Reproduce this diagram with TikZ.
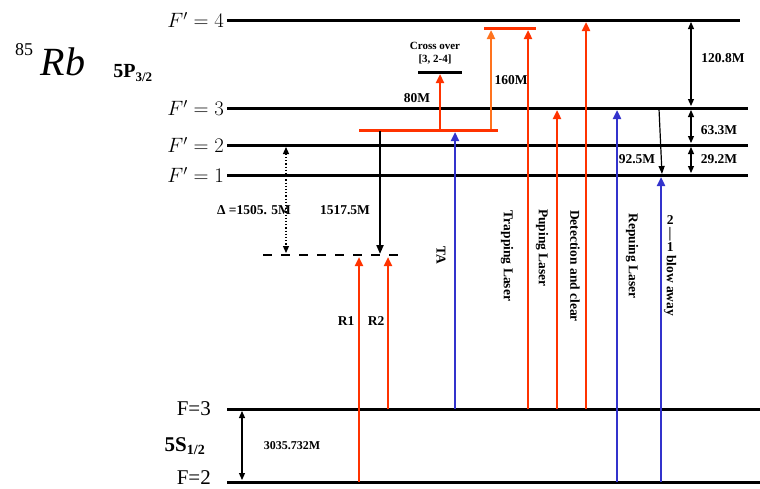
\documentclass[tikz,border=0pt]{standalone}
\usepackage{fontspec}
\setmainfont{Liberation Serif}
\usetikzlibrary{arrows.meta}
\definecolor{laserred}{RGB}{255,51,0}
\definecolor{laserorange}{RGB}{255,115,30}
\definecolor{laserblue}{RGB}{51,51,204}
\tikzstyle{level} = [line width=3pt, black]
\tikzstyle{laser} = [line width=2.5pt, -{Triangle[length=9pt,width=8pt]}]
\tikzstyle{gap} = [line width=1.2pt, {Triangle[length=7pt,width=6pt]}-{Triangle[length=7pt,width=6pt]}]
\tikzstyle{lbl} = [font=\fontsize{13.5}{15}\selectfont\bfseries, inner sep=0pt]
\tikzstyle{vlbl} = [lbl, rotate=-90]
\tikzstyle{lvlname} = [anchor=east, inner sep=0pt, font=\fontsize{21}{23}\selectfont]

\begin{document}
\begin{tikzpicture}[x=1pt, y=-1pt]
    \useasboundingbox (0,0) rectangle (760,488);

    % hyperfine levels
    \draw[level] (227,20) -- (740,20);
    \draw[level] (227,108) -- (748,108);
    \draw[level] (227,145) -- (748,145);
    \draw[level] (227,175) -- (748,175);
    \draw[level] (227,409) -- (760,409);
    \draw[level] (227,482) -- (760,482);

    \node(f4)[lvlname] at (224,20) {$F'=4$};
    \node(f3)[lvlname] at (224,108) {$F'=3$};
    \node(f2)[lvlname] at (224,145) {$F'=2$};
    \node(f1)[lvlname] at (224,175) {$F'=1$};
    \node(g3)[lvlname] at (211,409) {F=3};
    \node(g2)[lvlname, anchor=base east] at (211,484) {F=2};

    \node(mass)[inner sep=0pt, font=\fontsize{18}{20}\selectfont] at (24,50) {85};
    \node(rb)[inner sep=0pt, font=\fontsize{40}{44}\selectfont\itshape] at (63,62) {Rb};
    \node(pstate)[inner sep=0pt, font=\fontsize{20}{22}\selectfont\bfseries] at (133,73) {5P\textsubscript{\fontsize{13}{14}\selectfont 3/2}};
    \node(sstate)[inner sep=0pt, font=\fontsize{21}{23}\selectfont\bfseries] at (185,446) {5S\textsubscript{\fontsize{14}{15}\selectfont 1/2}};

    % virtual level and Raman beams
    \draw[line width=3pt, laserred] (359,130) -- (498,130);
    \draw[line width=2.5pt, dash pattern=on 9pt off 9pt] (263,255) -- (403,255);
    \draw[line width=2pt, -{Triangle[length=9pt,width=7pt]}] (380,131) -- (380,254);
    \draw[line width=1.2pt, dotted, {Triangle[length=7pt,width=6pt]}-{Triangle[length=7pt,width=6pt]}] (286,147) -- (286,253);
    \node(delta)[lbl] at (254,210) {Δ =1505. 5M};
    \node(det)[lbl] at (345,210) {1517.5M};

    \draw[laser, laserred] (359,482) -- (359,257);
    \draw[laser, laserred] (388,409) -- (388,257);
    \node(r1)[lbl] at (346,321) {R1};
    \node(r2)[lbl] at (376,321) {R2};

    \draw[laser, laserblue] (455,409) -- (455,132);
    \node(ta)[vlbl] at (441,255) {TA};

    % saturated absorption lock
    \draw[line width=3pt] (418,72) -- (462,72);
    \node(cross)[inner sep=0pt, align=center, font=\fontsize{11}{13}\selectfont\bfseries] at (435,53) {Cross over\\{}[3, 2-4]};
    \draw[laser, laserred] (440,129) -- (440,74);
    \node(aom1)[lbl] at (417,98) {80M};
    \draw[line width=3pt, laserred] (484,28) -- (536,28);
    \draw[laser, laserorange] (491,129) -- (491,30);
    \node(aom2)[lbl] at (511,80) {160M};

    % cooling and detection beams
    \draw[laser, laserred] (528,409) -- (528,30);
    \draw[laser, laserred] (557,409) -- (557,110);
    \draw[laser, laserred] (586,409) -- (586,22);
    \draw[laser, laserblue] (617,482) -- (617,110);
    \draw[laser, laserblue] (661,482) -- (661,177);
    \draw[line width=1.2pt, -{Triangle[length=8pt,width=6pt]}] (659,109) -- (662,174);

    \node(trap)[vlbl] at (507,256) {Trapping Laser};
    \node(pump)[vlbl] at (542,248) {Puping Laser};
    \node(detect)[vlbl] at (575,266) {Detection and clear};
    \node(repump)[vlbl] at (632,256) {Repuing Laser};
    \node(blow)[vlbl] at (670,266) {\rotatebox{90}{2}\,—\,\rotatebox{90}{1} blow away};
    \node(split)[lbl] at (637,159) {92.5M};

    % splittings
    \draw[gap] (691,22) -- (691,106);
    \draw[gap] (691,110) -- (691,143);
    \draw[gap] (691,147) -- (691,173);
    \draw[gap] (242,411) -- (242,480);
    \node(s43)[lbl] at (723,58) {120.8M};
    \node(s32)[lbl] at (719,130) {63.3M};
    \node(s21)[lbl] at (719,159) {29.2M};
    \node(ground)[lbl, font=\fontsize{12}{13}\selectfont\bfseries] at (292,446) {3035.732M};
\end{tikzpicture}
\end{document}
